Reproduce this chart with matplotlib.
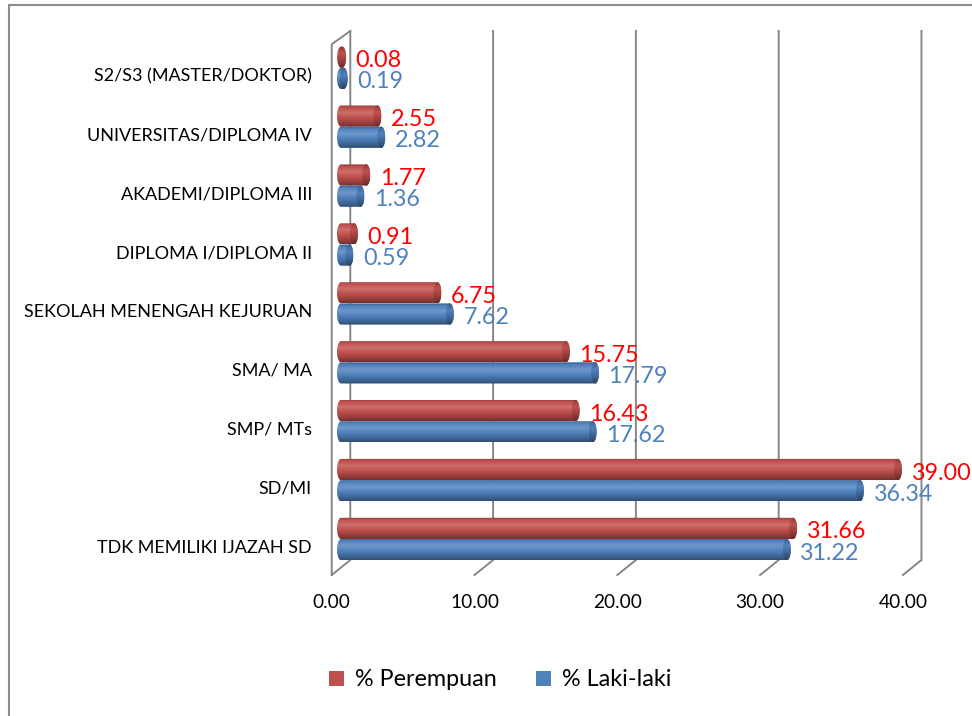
import numpy as np
import matplotlib
matplotlib.use('Agg')
import matplotlib.pyplot as plt
from matplotlib.patches import Ellipse, PathPatch, Patch
from matplotlib.path import Path
from matplotlib.lines import Line2D
from matplotlib.colors import to_rgb

plt.rcParams['font.family'] = ['Lato', 'DejaVu Sans']

# data (bottom to top as drawn)
categories = ['TDK MEMILIKI IJAZAH SD', 'SD/MI', 'SMP/ MTs', 'SMA/ MA',
              'SEKOLAH MENENGAH KEJURUAN', 'DIPLOMA I/DIPLOMA II',
              'AKADEMI/DIPLOMA III', 'UNIVERSITAS/DIPLOMA IV',
              'S2/S3 (MASTER/DOKTOR)']
perempuan = [31.66, 39.00, 16.43, 15.75, 6.75, 0.91, 1.77, 2.55, 0.08]
laki = [31.22, 36.34, 17.62, 17.79, 7.62, 0.59, 1.36, 2.82, 0.19]
ticks = [0, 10, 20, 30, 40]
series_names = ['% Perempuan', '% Laki-laki']
bar_colors = ['#c0504d', '#4f81bd']
label_colors = ['#ff0000', '#4f81bd']

# pixel mapping of the chart (axes fills the whole figure)
x0, sx = 341, 14.28
y0, sy = 539, 58.9
W, H = 972, 716

dx = 0.65        # half depth in x units
y_top = 8.625
y_bb = -0.357
y_fb = -0.611
cap_w = 0.56
bar_h = 0.36
grid_col = '#868686'


def shade(color, f):
    c = np.array(to_rgb(color))
    if f >= 1:
        return c + (1 - c) * (f - 1)
    return c * f


def gradient(color, n=40, dark=1.0):
    t = np.linspace(0, 1, n)
    prof = np.interp(t, [0, 0.12, 0.35, 0.7, 1.0], [0.75, 1.0, 1.18, 0.9, 0.62]) * dark
    rows = np.array([np.clip(shade(color, f), 0, 1) for f in prof])
    return rows[:, None, :]


def cylinder(ax, v, yc, h, color):
    a = cap_w / 2
    b = h / 2
    th = np.linspace(np.pi / 2, 3 * np.pi / 2, 40)
    left = np.column_stack([a * np.cos(th), yc + b * np.sin(th)])
    th2 = np.linspace(-np.pi / 2, np.pi / 2, 40)
    right = np.column_stack([v + a * np.cos(th2), yc + b * np.sin(th2)])
    verts = np.vstack([left, right, left[:1]])
    codes = [Path.MOVETO] + [Path.LINETO] * (len(verts) - 2) + [Path.CLOSEPOLY]
    body = PathPatch(Path(verts, codes), facecolor='none', edgecolor='none')
    ax.add_patch(body)
    im = ax.imshow(gradient(color), extent=[-a, v + a, yc - b, yc + b],
                   aspect='auto', interpolation='bilinear', zorder=3)
    im.set_clip_path(body)
    cap = Ellipse((v, yc), 2 * a, h, facecolor='none', edgecolor='none')
    ax.add_patch(cap)
    im2 = ax.imshow(gradient(color, dark=0.85), extent=[v - a, v + a, yc - b, yc + b],
                    aspect='auto', interpolation='bilinear', zorder=4)
    im2.set_clip_path(cap)


fig = plt.figure(figsize=(W / 100, H / 100), dpi=100)
ax = fig.add_axes([0, 0, 1, 1])
ax.set_autoscale_on(False)
ax.set_xlim(-x0 / sx, (W - x0) / sx)
ax.set_ylim((y0 - H) / sy, y0 / sy)
ax.axis('off')

# 3D frame: back wall gridlines and floor edges
for t in ticks:
    ax.plot([t + dx, t + dx, t - dx], [y_top, y_bb, y_fb], color=grid_col, lw=1.4,
            zorder=1, solid_joinstyle='miter')
    ax.text(t - dx, (y0 - 603) / sy, f'{t:.2f}', ha='center', va='center',
            fontsize=13.8, color='black')
ax.plot([dx, -dx, -dx], [y_top, 8.40, y_fb], color=grid_col, lw=1.4, zorder=1)

pos = np.arange(len(categories))
for i, cat in enumerate(categories):
    ax.text(-2.03, pos[i] - 0.145, cat, ha='right', va='center', fontsize=13,
            color='black')
    for k, (vals, off) in enumerate([(perempuan, 0.18), (laki, -0.18)]):
        v = vals[i]
        cylinder(ax, v, pos[i] + off, bar_h, bar_colors[k])
        ax.text(v + 0.95, pos[i] + off - 0.06, f'{v:.2f}', ha='left', va='center',
                fontsize=16.8, color=label_colors[k], zorder=5)

handles = [Patch(facecolor=c, edgecolor='none') for c in bar_colors]
fig.legend(handles, series_names, loc='center', bbox_to_anchor=(500 / W, 1 - 680 / H),
           ncol=2, frameon=False, fontsize=16.8, handlelength=0.65, handleheight=0.65,
           handletextpad=0.45, columnspacing=1.7)

# outer chart border
fig.add_artist(Line2D([9 / W, 9 / W], [0, 1 - 5 / H], transform=fig.transFigure,
                      color='#8c8c8c', lw=1.5))
fig.add_artist(Line2D([9 / W, 1], [1 - 5 / H, 1 - 5 / H], transform=fig.transFigure,
                      color='#8c8c8c', lw=1.5))

fig.savefig('out.png', dpi=100)
